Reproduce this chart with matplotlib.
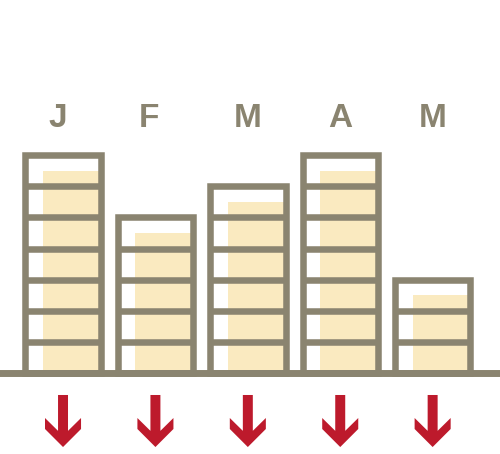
import matplotlib.pyplot as plt
from matplotlib.patches import Rectangle, Polygon

# data: number of outlined cells per month and the filled level
months = ['J', 'F', 'M', 'A', 'M']
cells = [7, 5, 6, 7, 3]
filled = [6.5, 4.5, 5.5, 6.5, 2.5]

grey = '#8a8470'
yellow = '#faeac0'
red = '#bd1a2c'

fig = plt.figure(figsize=(5, 4.54), dpi=100)
ax = fig.add_axes([0, 0, 1, 1])
# 1 x-unit = 92.4 px, 1 y-unit = 31.1 px
ax.set_xlim(-0.682, 4.729)
ax.set_ylim(-2.604, 11.99)
ax.axis('off')

bw = 0.816   # outline width (stroke centres)
lw = 4.7
nudge = [-0.06, -0.065, 0, 0, 0]  # label shifts seen in the original
for i, (n, f) in enumerate(zip(cells, filled)):
    left = i - bw / 2
    # yellow fill, shifted right
    ax.add_patch(Rectangle((i - 0.216, 0), bw / 2 + 0.216, f,
                           facecolor=yellow, edgecolor='none', zorder=1))
    # outlined column with cell dividers
    ax.add_patch(Rectangle((left, 0), bw, n, facecolor='none',
                           edgecolor=grey, lw=lw, zorder=2, joinstyle='miter'))
    for k in range(1, n):
        ax.plot([left, left + bw], [k, k], color=grey, lw=lw,
                solid_capstyle='butt', zorder=2)
    ax.text(i + nudge[i], 8.17, months[i], ha='center', va='center', color=grey,
            fontsize=24, fontweight='bold', family='Liberation Sans')
    # down arrow (chevron head)
    sw, hw = 0.054, 0.195
    top, wtop, wbot, join, tip = -0.707, -1.447, -1.80, -1.86, -2.38
    ax.add_patch(Polygon([(i - sw, top), (i + sw, top), (i + sw, join),
                          (i + hw, wtop), (i + hw, wbot), (i, tip),
                          (i - hw, wbot), (i - hw, wtop), (i - sw, join)],
                         closed=True, facecolor=red, edgecolor='none', zorder=2))

# baseline
ax.axhline(0, color=grey, lw=5, zorder=3)

fig.savefig('out.png', dpi=100)
